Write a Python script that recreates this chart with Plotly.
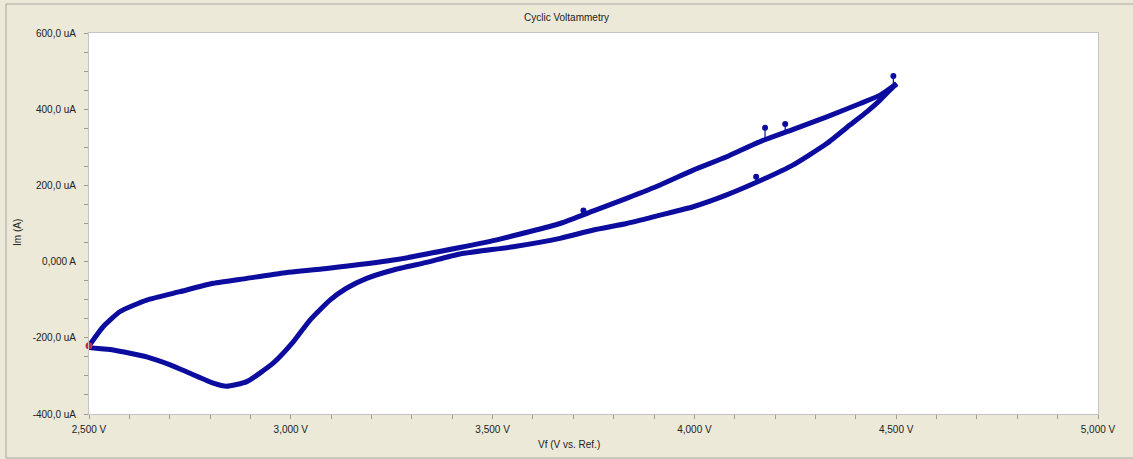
import numpy as np
import plotly.graph_objects as go

# ---- data (V in volts, current in microamps) ----
fwd_v = [2.500, 2.535, 2.577, 2.643, 2.725, 2.808, 2.891, 2.973, 3.089, 3.254,
         3.419, 3.518, 3.667, 3.750, 3.832, 3.915, 3.997, 4.080, 4.158, 4.245,
         4.328, 4.411, 4.460, 4.493, 4.501]
fwd_i = [-221, -171, -131, -101, -79, -57, -44, -31, -18, 4,
         37, 59, 100, 133, 166, 201, 240, 275, 313, 347,
         380, 415, 437, 461, 468]

rev_v = [4.501, 4.493, 4.460, 4.427, 4.386, 4.328, 4.245, 4.158, 4.080, 3.997,
         3.915, 3.832, 3.750, 3.667, 3.551, 3.419, 3.336, 3.254, 3.188, 3.138,
         3.097, 3.048, 3.006, 2.957, 2.891, 2.841, 2.808, 2.750, 2.701, 2.643,
         2.560, 2.502, 2.500]
rev_i = [466, 459, 424, 393, 359, 310, 254, 210, 175, 144,
         122, 100, 83, 61, 39, 20, -2, -22, -44, -70,
         -101, -153, -211, -266, -315, -327, -319, -293, -271, -250,
         -232, -225, -221]

# outlier samples (spikes) on each branch
fwd_spike_v = [3.725, 4.175, 4.225, 4.493]
fwd_spike_i = [134, 351, 361, 487]
rev_spike_v = [4.153]
rev_spike_i = [223]

start_v = [2.500]
start_i = [-221]

x_tick_vals = [2.5, 3.0, 3.5, 4.0, 4.5, 5.0]
x_tick_labels = ["2,500 V", "3,000 V", "3,500 V", "4,000 V", "4,500 V", "5,000 V"]
y_tick_vals = [-400, -200, 0, 200, 400, 600]
y_tick_labels = ["-400,0 uA", "-200,0 uA", "0,000 A", "200,0 uA", "400,0 uA", "600,0 uA"]

LINE = "#0c0c9e"
FONT = "Liberation Sans"

fig = go.Figure()


def stems(sv, si, bv, bi):
    bv = np.array(bv); bi = np.array(bi)
    order = np.argsort(bv)
    xs, ys = [], []
    for v, i in zip(sv, si):
        base = float(np.interp(v, bv[order], bi[order]))
        xs += [v, v, None]
        ys += [base, i, None]
    return xs, ys


for sv, si, bv, bi in [(fwd_spike_v, fwd_spike_i, fwd_v, fwd_i),
                       (rev_spike_v, rev_spike_i, rev_v, rev_i)]:
    xs, ys = stems(sv, si, bv, bi)
    fig.add_trace(go.Scatter(x=xs, y=ys, mode="lines",
                             line=dict(color=LINE, width=1.2),
                             showlegend=False, hoverinfo="skip"))

fig.add_trace(go.Scatter(x=fwd_v, y=fwd_i, mode="lines",
                         line=dict(color=LINE, width=5, shape="spline", smoothing=0.5),
                         showlegend=False))
fig.add_trace(go.Scatter(x=rev_v, y=rev_i, mode="lines",
                         line=dict(color=LINE, width=5, shape="spline", smoothing=0.5),
                         showlegend=False))
fig.add_trace(go.Scatter(x=fwd_spike_v + rev_spike_v, y=fwd_spike_i + rev_spike_i,
                         mode="markers", marker=dict(color=LINE, size=6),
                         showlegend=False))
fig.add_trace(go.Scatter(x=start_v, y=start_i, mode="markers",
                         marker=dict(color="#c0304a", size=7),
                         showlegend=False, cliponaxis=False))

axis_common = dict(
    showgrid=False, zeroline=False,
    ticks="outside", ticklen=4, tickcolor="#9a9a9a",
    showline=True, linecolor="#c4c4c4", linewidth=1, mirror=True,
    tickfont=dict(family=FONT, size=10, color="#222222"),
)

fig.update_xaxes(range=[2.5, 5.0], tickmode="array", tickvals=x_tick_vals,
                 ticktext=x_tick_labels, ticklabelstandoff=2,
                 minor=dict(dtick=0.1, ticks="outside", ticklen=4,
                            tickcolor="#9a9a9a", showgrid=False),
                 **axis_common)
fig.update_yaxes(range=[-400, 600], tickmode="array", tickvals=y_tick_vals,
                 ticktext=y_tick_labels, ticklabelstandoff=6,
                 minor=dict(dtick=50, ticks="outside", ticklen=4,
                            tickcolor="#9a9a9a", showgrid=False),
                 **axis_common)

fig.update_layout(
    width=1133, height=459,
    margin=dict(l=89, r=35, t=33, b=45),
    paper_bgcolor="#ece9d8",
    plot_bgcolor="#ffffff",
    title=dict(text="Cyclic Voltammetry", x=0.5, xref="container",
               xanchor="center", y=1 - 17 / 459, yanchor="middle",
               font=dict(family=FONT, size=10, color="#222222")),
    annotations=[
        dict(text="Vf (V vs. Ref.)", xref="paper", yref="paper",
             x=(569 - 89) / 1009, y=(414 - 444) / 381,
             xanchor="center", yanchor="middle", showarrow=False,
             font=dict(family=FONT, size=10, color="#222222")),
        dict(text="Im (A)", xref="paper", yref="paper",
             x=(17 - 89) / 1009, y=(414 - 233) / 381, textangle=-90,
             xanchor="center", yanchor="middle", showarrow=False,
             font=dict(family=FONT, size=10, color="#222222")),
    ],
    shapes=[
        dict(type="rect", xref="paper", yref="paper",
             x0=(6 - 89) / 1009, x1=(1145 - 89) / 1009,
             y0=(414 - 458) / 381, y1=(414 - 4) / 381,
             line=dict(color="#a8a8a0", width=1), fillcolor="rgba(0,0,0,0)",
             layer="above"),
    ],
)

fig.write_html("out.html",
               config={"displayModeBar": False},
               post_script="document.body.style.margin='0px';document.body.style.background='#f4f3ee';")
